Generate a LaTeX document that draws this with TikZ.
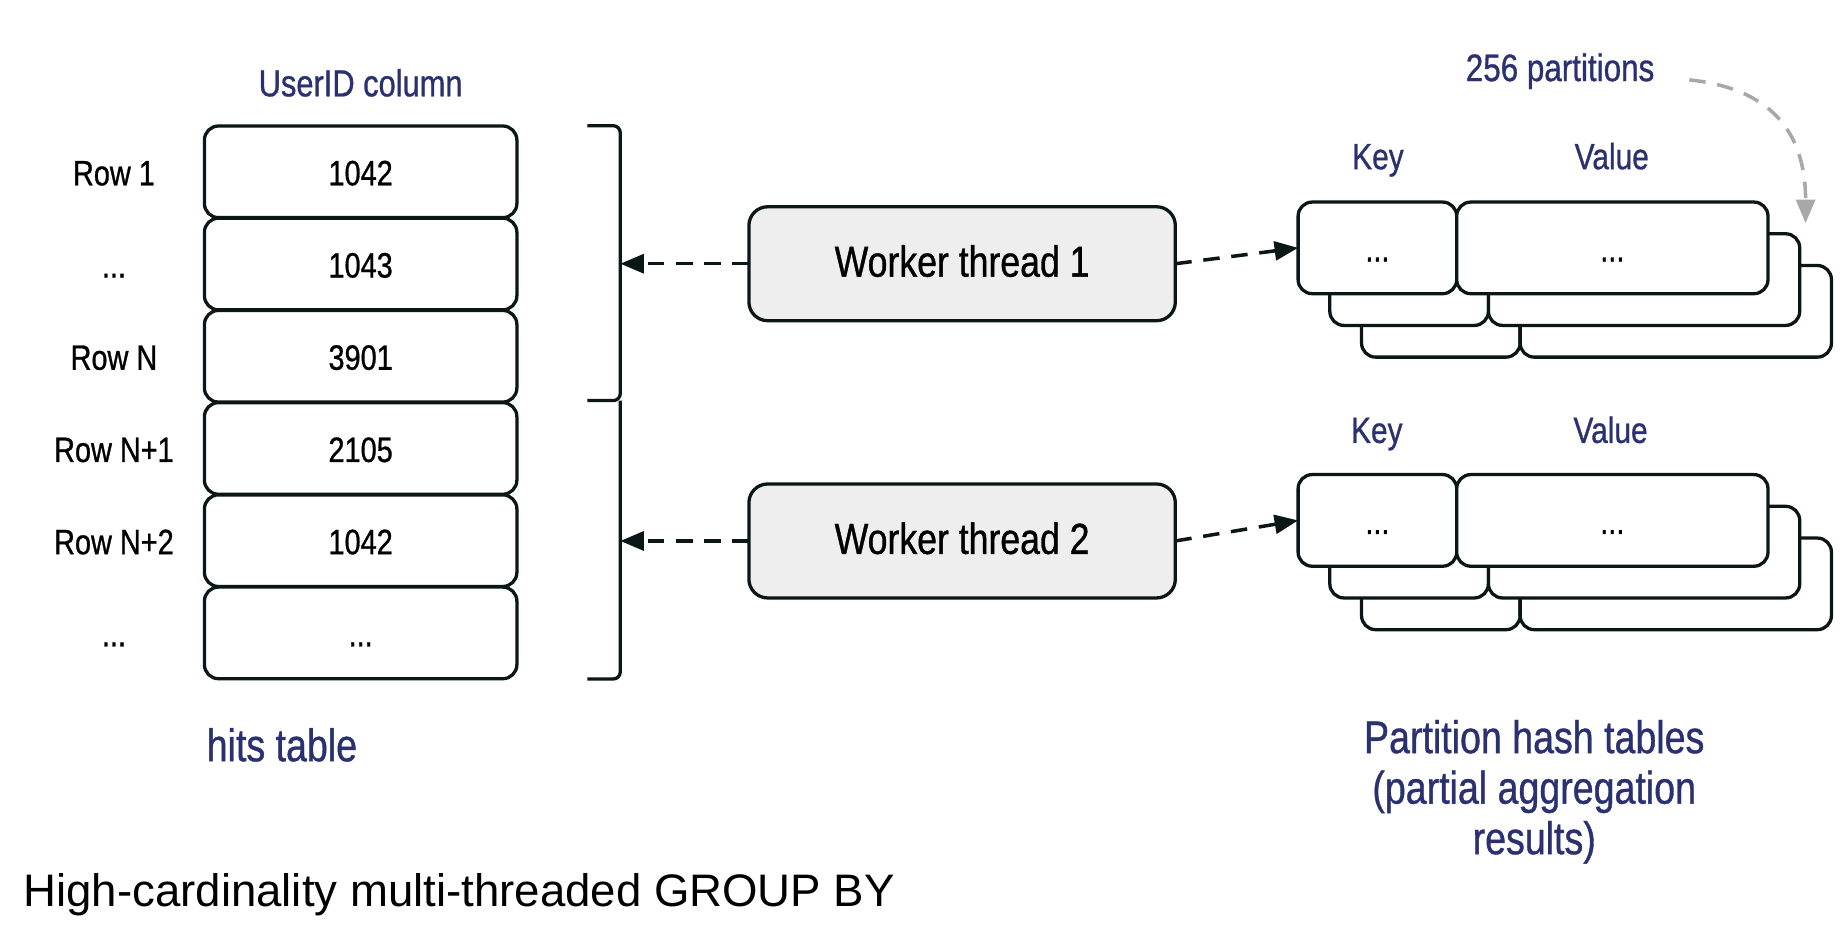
\documentclass[tikz,border=0pt]{standalone}
\usepackage{fontspec}
\setmainfont{Liberation Sans}
\newfontfamily\nf[FakeStretch=0.82,FakeBold=0.8]{Liberation Sans}
\usetikzlibrary{arrows.meta}
\definecolor{navy}{RGB}{43,48,112}
\definecolor{bord}{RGB}{11,23,22}
\definecolor{wfill}{RGB}{238,238,238}
\definecolor{garrow}{RGB}{168,168,168}
\tikzset{
  every node/.style={inner sep=0pt, outer sep=0pt},
  cell/.style={draw=bord, line width=1.4pt, rounded corners=6pt, fill=white,
    minimum width=133pt, minimum height=39pt, text=black,
    font=\nf\fontsize{15}{18}\selectfont, text height=1.15em, text depth=0pt},
  rowlbl/.style={text=black, font=\nf\fontsize{15}{18}\selectfont,
    text height=1.15em, text depth=0pt},
  worker/.style={draw=bord, line width=1.4pt, rounded corners=8pt, fill=wfill,
    minimum width=181.5pt, minimum height=48.5pt, text=black,
    font=\nf\fontsize{18.5}{22}\selectfont, text height=1.1em, text depth=0pt},
  keybox/.style={draw=bord, line width=1.4pt, rounded corners=6pt, fill=white,
    minimum width=67.5pt, minimum height=39pt, text=black,
    font=\nf\fontsize{15}{18}\selectfont, text height=1.15em, text depth=0pt},
  valbox/.style={keybox, minimum width=132.5pt},
  navylbl/.style={text=navy, font=\nf\fontsize{15.5}{18}\selectfont, anchor=base},
  biglbl/.style={text=navy, font=\nf\fontsize{19.5}{21.5}\selectfont, align=center},
  bracket/.style={draw=bord, line width=1.4pt, rounded corners=3pt},
  dasharrow/.style={draw=bord, line width=1.5pt, dash pattern=on 7pt off 5pt,
    -{Triangle[length=10pt,width=8pt]}},
  grayarrow/.style={draw=garrow, line width=1.5pt, dash pattern=on 7pt off 5pt,
    -{Triangle[length=10pt,width=8pt]}},
}
\begin{document}
\begin{tikzpicture}[x=0.5pt,y=-0.5pt]
\useasboundingbox[fill=white] (0,0) rectangle (1568,797);

% column header
\node[navylbl, font=\nf\fontsize{16}{18}\selectfont] (hdr) at (307,82) {UserID column};

% cells
\node[cell] (c1) at (307,146.25) {1042};
\node[cell] (c2) at (307,224.75) {1043};
\node[cell] (c3) at (307,303.25) {3901};
\node[cell] (c4) at (307,381.75) {2105};
\node[cell] (c5) at (307,460.25) {1042};
\node[cell] (c6) at (307,538.75) {...};

% row labels
\node[rowlbl] (l1) at (97,146.25) {Row 1};
\node[rowlbl] (l2) at (97,224.75) {...};
\node[rowlbl] (l3) at (97,303.25) {Row N};
\node[rowlbl] (l4) at (97,381.75) {Row N+1};
\node[rowlbl] (l5) at (97,460.25) {Row N+2};
\node[rowlbl] (l6) at (97,538.75) {...};

% brackets
\draw[bracket] (500,107) -- (528,107) -- (528,341) -- (500,341);
\draw[bracket] (528,341) -- (528,578) -- (500,578);
\coordinate (b1) at (528,224.5);
\coordinate (b2) at (528,460.5);

% workers
\node[worker] (w1) at (819,224.5) {Worker thread 1};
\node[worker] (w2) at (819,460.5) {Worker thread 2};

% hash tables 1
\node[navylbl] (key1) at (1173,144) {Key};
\node[navylbl] (val1) at (1372,144) {Value};
\node[keybox] (t1k3) at (1226.5,265) {};
\node[valbox] (t1v3) at (1426.5,265) {};
\node[keybox] (t1k2) at (1199.5,238) {};
\node[valbox] (t1v2) at (1399.5,238) {};
\node[keybox] (t1k1) at (1172.5,211) {...};
\node[valbox] (t1v1) at (1372.5,211) {...};

% hash tables 2
\node[navylbl] (key2) at (1172,377) {Key};
\node[navylbl] (val2) at (1371,377) {Value};
\node[keybox] (t2k3) at (1226.5,497) {};
\node[valbox] (t2v3) at (1426.5,497) {};
\node[keybox] (t2k2) at (1199.5,470) {};
\node[valbox] (t2v2) at (1399.5,470) {};
\node[keybox] (t2k1) at (1172.5,443) {...};
\node[valbox] (t2v1) at (1372.5,443) {...};

% arrows
\draw[dasharrow] (w1.west) -- (b1);
\draw[dasharrow] (w2.west) -- (b2);
\draw[dasharrow] (w1.east) -- (t1k1.west);
\draw[dasharrow] (w2.east) -- (t2k1.west);

% 256 partitions
\node[navylbl, font=\nf\fontsize{16.3}{18}\selectfont] (p256) at (1328,69) {256 partitions};
\coordinate (ga1) at (1438,68);
\coordinate (ga2) at (1537,190);
\draw[grayarrow] (ga1) .. controls (1505,75) and (1537,110) .. (ga2);

% bottom labels
\node[biglbl, anchor=base] (hits) at (240,648) {hits table};
\node[biglbl] (part) at (1306,674) {Partition hash tables\\(partial aggregation\\results)};

% title
\node[anchor=base west, text=black, font=\fontsize{19.4}{22}\selectfont] (title) at (20,772) {High-cardinality multi-threaded GROUP BY};
\end{tikzpicture}
\end{document}
